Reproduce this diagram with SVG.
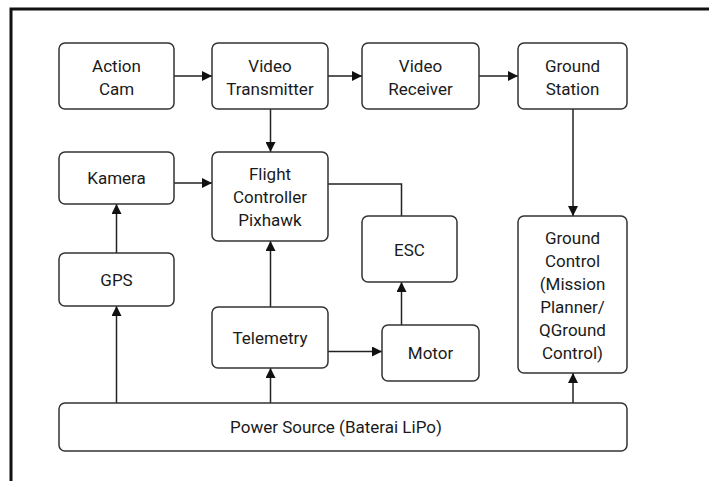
<svg xmlns="http://www.w3.org/2000/svg" width="709" height="481" viewBox="0 0 709 481">
<defs>
<marker id="ah" viewBox="0 0 10 10" refX="10" refY="5" markerWidth="10" markerHeight="10" markerUnits="userSpaceOnUse" orient="auto">
<path d="M0,0 L10,5 L0,10 Z" fill="#111"/>
</marker>
<style>
.box{fill:#fff;stroke:#333;stroke-width:1.5}
.lbl{font-family:Roboto,"Liberation Sans",sans-serif;font-size:17px;fill:#1a1a1a;text-anchor:middle;dominant-baseline:central}
.ln{fill:none;stroke:#222;stroke-width:1.5}
.ar{fill:none;stroke:#222;stroke-width:1.5;marker-end:url(#ah)}
</style>
</defs>
<rect width="709" height="481" fill="#fff"/>
<path d="M11,481 V9 H709" fill="none" stroke="#111" stroke-width="3"/>
<g id="connectors">
<path class="ar" d="M174,76 H212"/>
<path class="ar" d="M328,76 H362"/>
<path class="ar" d="M479,76 H518"/>
<path class="ar" d="M270.5,109 V152"/>
<path class="ar" d="M174,183 H212"/>
<path class="ar" d="M116.5,253 V204"/>
<path class="ln" d="M328,184 H401.5 V216"/>
<path class="ar" d="M401.5,325 V282"/>
<path class="ar" d="M270.5,307 V241"/>
<path class="ar" d="M328,351.5 H382"/>
<path class="ar" d="M116.5,403 V306"/>
<path class="ar" d="M270.5,403 V368"/>
<path class="ar" d="M573,403 V373"/>
<path class="ar" d="M573,109 V216"/>
</g>
<g id="action-cam"><rect class="box" x="59" y="43" width="115" height="66" rx="6"/><text class="lbl" x="116.5" y="66">Action</text><text class="lbl" x="116.5" y="89">Cam</text></g>
<g id="video-transmitter"><rect class="box" x="212" y="43" width="116" height="66" rx="6"/><text class="lbl" x="270" y="66">Video</text><text class="lbl" x="270" y="89">Transmitter</text></g>
<g id="video-receiver"><rect class="box" x="362" y="43" width="117" height="66" rx="6"/><text class="lbl" x="420.5" y="66">Video</text><text class="lbl" x="420.5" y="89">Receiver</text></g>
<g id="ground-station"><rect class="box" x="518" y="43" width="109" height="66" rx="6"/><text class="lbl" x="572.5" y="66">Ground</text><text class="lbl" x="572.5" y="89">Station</text></g>
<g id="kamera"><rect class="box" x="59" y="152" width="115" height="52" rx="6"/><text class="lbl" x="116.5" y="178">Kamera</text></g>
<g id="flight-controller"><rect class="box" x="212" y="152" width="116" height="89" rx="6"/><text class="lbl" x="270" y="174">Flight</text><text class="lbl" x="270" y="197">Controller</text><text class="lbl" x="270" y="220">Pixhawk</text></g>
<g id="esc"><rect class="box" x="362" y="216" width="95" height="66" rx="6"/><text class="lbl" x="409.5" y="250">ESC</text></g>
<g id="ground-control"><rect class="box" x="518" y="216" width="109" height="157" rx="6"/><text class="lbl" x="572.5" y="237.5">Ground</text><text class="lbl" x="572.5" y="260.7">Control</text><text class="lbl" x="572.5" y="284">(Mission</text><text class="lbl" x="572.5" y="307">Planner/</text><text class="lbl" x="572.5" y="330">QGround</text><text class="lbl" x="572.5" y="353">Control)</text></g>
<g id="gps"><rect class="box" x="59" y="253" width="115" height="53" rx="6"/><text class="lbl" x="116.5" y="280">GPS</text></g>
<g id="telemetry"><rect class="box" x="212" y="307" width="116" height="61" rx="6"/><text class="lbl" x="270" y="337.5">Telemetry</text></g>
<g id="motor"><rect class="box" x="382" y="325" width="97" height="56" rx="6"/><text class="lbl" x="430.5" y="353">Motor</text></g>
<g id="power-source"><rect class="box" x="59" y="403" width="568" height="48" rx="6"/><text class="lbl" x="336" y="426.5">Power Source (Baterai LiPo)</text></g>
</svg>
